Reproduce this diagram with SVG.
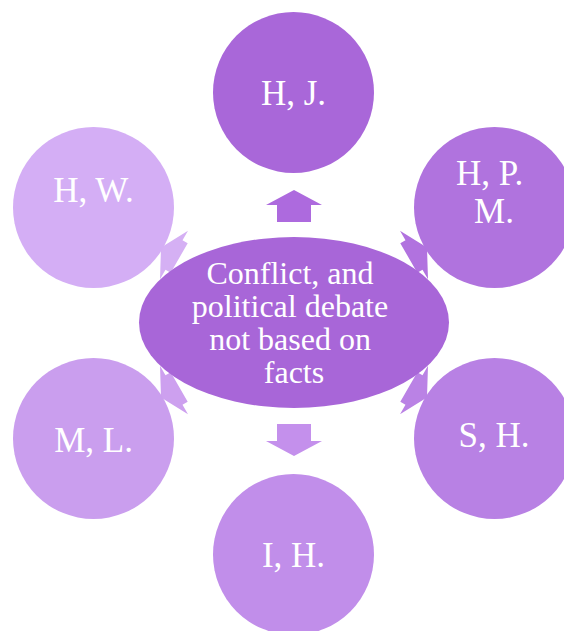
<svg xmlns="http://www.w3.org/2000/svg" width="564" height="631" viewBox="0 0 564 631">
  <defs>
    <style>
      .lbl { font-family: "Liberation Serif", "Times New Roman", serif; fill: #ffffff; text-anchor: middle; }
      .sat { font-size: 35px; }
      .hub { font-size: 32px; }
    </style>
    <!-- block arrow pointing up, origin at the middle of the head's base -->
    <path id="arrow" d="M0,-15 L28,0 L17,0 L17,17 L-17,17 L-17,0 L-28,0 Z"/>
    <!-- stubbier variant for the diagonal spokes -->
    <path id="arrow-short" d="M0,-15 L28,0 L17,0 L17,6 L-17,6 L-17,0 L-28,0 Z"/>
  </defs>

  <rect width="564" height="631" fill="#ffffff"/>

  <g id="connectors">
    <use href="#arrow" transform="translate(294,205)" fill="#ad6ade"/>
    <use href="#arrow-short" transform="translate(414,255) rotate(60)" fill="#b172df"/>
    <use href="#arrow-short" transform="translate(414,390) rotate(120)" fill="#ba82e5"/>
    <use href="#arrow" transform="translate(294,441) rotate(180)" fill="#c490ec"/>
    <use href="#arrow-short" transform="translate(174,390) rotate(-120)" fill="#cda0ef"/>
    <use href="#arrow-short" transform="translate(174,255) rotate(-60)" fill="#d5b0f4"/>
  </g>

  <g id="hub">
    <ellipse cx="294" cy="322.5" rx="155" ry="85.5" fill="#a866d8"/>
    <text class="lbl hub">
      <tspan x="294" y="284">Conflict, and</tspan>
      <tspan x="294" y="317">political debate</tspan>
      <tspan x="294" y="350">not based on</tspan>
      <tspan x="294" y="383">facts</tspan>
    </text>
  </g>

  <g id="node-hj">
    <circle cx="293.5" cy="92.5" r="80.5" fill="#a967d9"/>
    <text class="lbl sat" x="293.5" y="105">H, J.</text>
  </g>

  <g id="node-hpm">
    <circle cx="494.5" cy="207.5" r="80.5" fill="#b073de"/>
    <text class="lbl sat">
      <tspan x="494" y="185">H, P.</tspan>
      <tspan x="494" y="223">M.</tspan>
    </text>
  </g>

  <g id="node-sh">
    <circle cx="494.5" cy="438.5" r="80.5" fill="#b881e4"/>
    <text class="lbl sat" x="494" y="447">S, H.</text>
  </g>

  <g id="node-ih">
    <circle cx="293.5" cy="554.5" r="80.5" fill="#c18eea"/>
    <text class="lbl sat" x="293.5" y="567">I, H.</text>
  </g>

  <g id="node-ml">
    <circle cx="93.5" cy="438.5" r="80.5" fill="#ca9eee"/>
    <text class="lbl sat" x="93.5" y="451.5">M, L.</text>
  </g>

  <g id="node-hw">
    <circle cx="93.5" cy="207.5" r="80.5" fill="#d4aef5"/>
    <text class="lbl sat" x="93.5" y="201.5">H, W.</text>
  </g>
</svg>
